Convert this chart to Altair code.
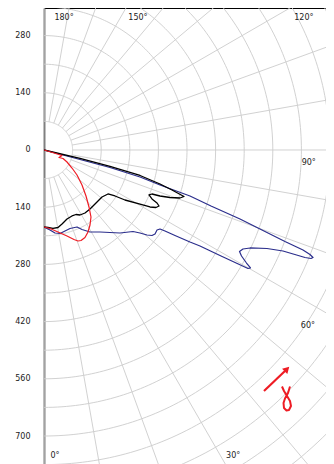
import altair as alt
import pandas as pd
import numpy as np

# ---- series data (x, y in chart units; y up = positive) ----
black_x = [0, 88.1, 161.5, 235.0, 283.9, 313.3, 342.6, 332.8, 308.4, 283.9, 264.3, 257.0, 264.3, 276.6,
           281.5, 274.1, 259.4, 235.0, 198.2, 173.8, 156.6, 141.9, 127.3, 112.6, 100.3, 88.1, 78.3, 68.5,
           56.3, 44.1, 34.3, 22.0, 9.8, 0]
black_y = [0, -20.8, -40.4, -62.4, -83.2, -97.9, -113.8, -117.5, -116.3, -112.6, -107.7, -110.1, -119.9, -129.7,
           -137.1, -140.7, -139.5, -132.2, -122.4, -112.6, -107.7, -115.0, -129.7, -144.4, -154.2, -159.1, -157.9, -161.5,
           -168.9, -181.1, -189.7, -192.1, -189.7, -188.4]

blue_x = [0, 88.1, 161.5, 235.0, 283.9, 357.3, 408.7, 479.7, 533.5, 589.8, 633.9, 651.0, 658.4, 653.5,
          638.8, 626.5, 584.9, 545.8, 504.2, 487.0, 478.5, 483.4, 495.6, 505.4, 499.3, 430.7, 381.8, 357.3,
          320.6, 296.1, 283.9, 276.6, 271.7, 264.3, 252.1, 235.0, 217.8, 186.0, 161.5, 137.1, 112.6, 93.0,
          80.8, 63.6, 39.2, 26.9, 14.7, 0]
blue_y = [0, -23.3, -42.8, -66.1, -85.7, -112.6, -137.1, -168.9, -195.8, -223.9, -244.7, -255.8, -263.1, -265.5,
          -263.1, -259.4, -247.2, -241.1, -239.8, -242.3, -248.4, -259.4, -276.6, -288.8, -290.0, -258.2, -235.0, -225.2,
          -209.3, -198.2, -193.3, -195.8, -205.6, -209.3, -208.0, -203.1, -199.5, -203.1, -201.9, -200.7, -200.7, -194.6,
          -188.4, -192.1, -204.4, -203.1, -195.8, -188.4]

red_x = [0, 24.5, 44.1, 36.7, 46.5, 56.3, 68.5, 80.8, 93.0, 102.8, 110.1, 115.0, 112.6, 107.7,
         100.3, 90.6, 83.2, 73.4, 56.3, 34.3, 14.7, 0]
red_y = [0, -7.3, -13.5, -18.4, -20.8, -29.4, -44.1, -61.2, -85.7, -112.6, -139.5, -164.0, -183.6, -200.7,
         -214.1, -221.5, -222.7, -219.0, -210.5, -200.7, -192.1, -188.4]

# red annotation: arrow and loop symbol
arrow_x = [538.4, 589.8]
arrow_y = [-589.8, -540.9]
arrow_head_x = [594.7]
arrow_head_y = [-536.0]
loop_x = [582.5, 587.4, 594.7, 602.1, 604.5, 599.6, 593.5, 587.4, 586.2, 589.8, 597.2, 602.1]
loop_y = [-578.8, -589.8, -602.1, -614.3, -626.5, -636.3, -637.5, -631.4, -619.2, -608.2, -594.7, -578.8]

# axis ticks and angle labels
y_ticks = [280, 140, 0, -140, -280, -420, -560, -700]
angle_labels = ["180°", "150°", "120°", "90°", "60°", "30°", "0°"]
angle_label_x = [49, 230, 636, 648, 646, 463, 27]
angle_label_y = [323, 323, 323, -32, -431, -749, -749]

ring_radii = list(range(70, 1120, 70))
spoke_angles = list(range(0, 190, 10))


def path_df(xs, ys, name):
    return pd.DataFrame({"x": xs, "y": ys, "i": list(range(len(xs))), "s": name})


# polar grid
grid_rows = []
for r in ring_radii:
    for a in np.arange(0, 180.5, 1.0):
        t = np.radians(a)
        grid_rows.append({"x": r * np.sin(t), "y": -r * np.cos(t), "g": f"c{r}", "i": float(a)})
for a in spoke_angles:
    t = np.radians(a)
    for j, r in enumerate([70, 1200]):
        grid_rows.append({"x": r * np.sin(t), "y": -r * np.cos(t), "g": f"s{a}", "i": float(j)})
grid_df = pd.DataFrame(grid_rows)

xscale = alt.Scale(domain=[0, 690.2], nice=False, zero=False)
yscale = alt.Scale(domain=[-768.5, 347.5], nice=False, zero=False)
yaxis = alt.Axis(values=y_ticks, labelExpr="format(abs(datum.value), 'd')", grid=False, ticks=False,
                 domainColor="#808080", domainWidth=2, labelFontSize=8, labelColor="#222222",
                 labelPadding=14, labelFont="DejaVu Sans", title=None)

X = alt.X("x:Q", scale=xscale, axis=None)
Y = alt.Y("y:Q", scale=yscale, axis=yaxis)

grid = alt.Chart(grid_df).mark_line(color="#cccccc", strokeWidth=0.9, clip=True).encode(
    x=X, y=Y, detail="g:N", order="i:Q")


def curve(xs, ys, name, color, w):
    return alt.Chart(path_df(xs, ys, name)).mark_line(color=color, strokeWidth=w, clip=True,
                                                      strokeJoin="round").encode(x=X, y=Y, order="i:Q")


blue = curve(blue_x, blue_y, "blue", "#2b2e8c", 1.2)
black = curve(black_x, black_y, "black", "#000000", 1.3)
red = curve(red_x, red_y, "red", "#ee1c24", 1.2)
arrow = curve(arrow_x, arrow_y, "arrow", "#ee1c24", 2.2)
loop = curve(loop_x, loop_y, "loop", "#ee1c24", 2.0)
head = alt.Chart(pd.DataFrame({"x": arrow_head_x, "y": arrow_head_y})).mark_point(
    shape="triangle-up", angle=45, size=55, filled=True, color="#ee1c24", opacity=1).encode(x=X, y=Y)

labels = alt.Chart(pd.DataFrame({"x": angle_label_x, "y": angle_label_y, "t": angle_labels})).mark_text(
    fontSize=8, font="DejaVu Sans", color="#222222").encode(x=X, y=Y, text="t:N")

chart = alt.layer(grid, blue, black, red, arrow, loop, head, labels).properties(
    width=282, height=456, autosize="none",
    padding={"left": 36, "top": 0, "right": 0, "bottom": 0}
).configure_view(stroke="#000000", strokeWidth=1)

chart.save("out.html", embed_options={"renderer": "svg", "actions": False})
